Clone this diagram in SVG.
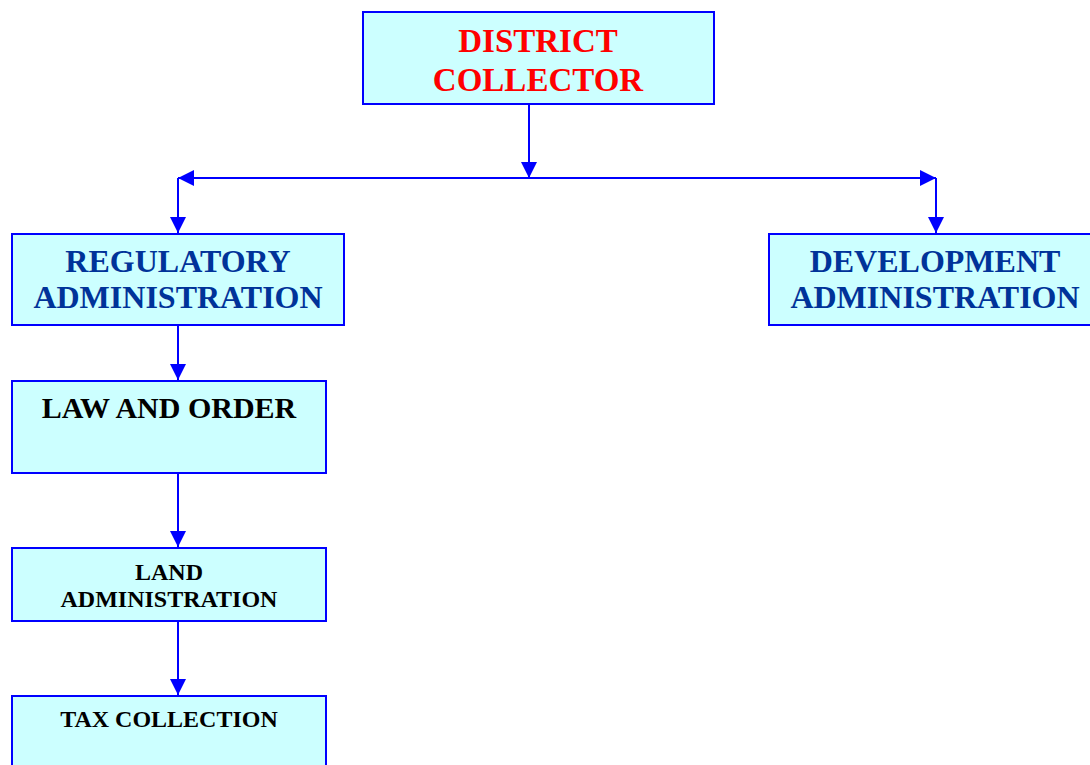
<svg xmlns="http://www.w3.org/2000/svg" width="1090" height="765" viewBox="0 0 1090 765">
<style>
.box{fill:#CCFFFF;stroke:#0000FF;stroke-width:2}
.t{font-family:"Liberation Serif","Times New Roman",serif;font-weight:bold;text-anchor:middle}
.red{fill:#FF0000;font-size:33px}
.navy{fill:#003399;font-size:32px}
.blk{fill:#000000}
.conn{stroke:#0000FF;stroke-width:2;fill:none}
</style>
<defs>
<marker id="ah" viewBox="0 0 16 16" refX="16" refY="8" markerWidth="16" markerHeight="16" markerUnits="userSpaceOnUse" orient="auto">
<path d="M0,0 L16,8 L0,16 Z" fill="#0000FF"/>
</marker>
</defs>
<rect width="1090" height="765" fill="#FFFFFF"/>
<g id="connectors">
<line class="conn" x1="529" y1="104" x2="529" y2="178" marker-end="url(#ah)"/>
<line class="conn" x1="529" y1="178" x2="178" y2="178" marker-end="url(#ah)"/>
<line class="conn" x1="529" y1="178" x2="936" y2="178" marker-end="url(#ah)"/>
<line class="conn" x1="178" y1="178" x2="178" y2="233" marker-end="url(#ah)"/>
<line class="conn" x1="936" y1="178" x2="936" y2="233" marker-end="url(#ah)"/>
<line class="conn" x1="178" y1="326" x2="178" y2="380" marker-end="url(#ah)"/>
<line class="conn" x1="178" y1="474" x2="178" y2="547" marker-end="url(#ah)"/>
<line class="conn" x1="178" y1="622" x2="178" y2="695" marker-end="url(#ah)"/>
</g>
<g id="district-collector">
<rect class="box" x="363" y="12" width="351" height="92"/>
<text class="t red" x="538" y="52">DISTRICT</text>
<text class="t red" x="538" y="91">COLLECTOR</text>
</g>
<g id="regulatory-administration">
<rect class="box" x="12" y="234" width="332" height="91"/>
<text class="t navy" x="178" y="272">REGULATORY</text>
<text class="t navy" x="178" y="308">ADMINISTRATION</text>
</g>
<g id="development-administration">
<rect class="box" x="769" y="234" width="330" height="91"/>
<text class="t navy" x="935" y="272">DEVELOPMENT</text>
<text class="t navy" x="935" y="308">ADMINISTRATION</text>
</g>
<g id="law-and-order">
<rect class="box" x="12" y="381" width="314" height="92"/>
<text class="t blk" x="169" y="418" font-size="30">LAW AND ORDER</text>
</g>
<g id="land-administration">
<rect class="box" x="12" y="548" width="314" height="73"/>
<text class="t blk" x="169" y="580" font-size="24">LAND</text>
<text class="t blk" x="169" y="607" font-size="24">ADMINISTRATION</text>
</g>
<g id="tax-collection">
<rect class="box" x="12" y="696" width="314" height="80"/>
<text class="t blk" x="169" y="727" font-size="24">TAX COLLECTION</text>
</g>
</svg>
